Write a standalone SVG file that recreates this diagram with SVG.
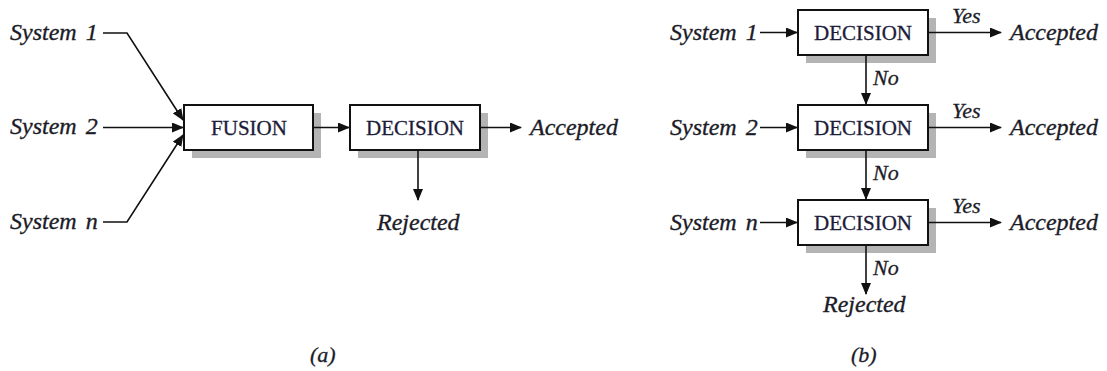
<svg xmlns="http://www.w3.org/2000/svg" width="1107" height="371" viewBox="0 0 1107 371">
<style>
.lbl{font-family:"Liberation Serif","Times New Roman",serif;font-style:italic;font-size:24px;fill:#1c1c28;stroke:#1c1c28;stroke-width:0.35;word-spacing:3px}
.sm{font-family:"Liberation Serif","Times New Roman",serif;font-style:italic;font-size:22px;fill:#1c1c28;stroke:#1c1c28;stroke-width:0.3}
.box{fill:#fff;stroke:#111;stroke-width:2}
.shd{fill:#b4b4b4}
.btxt{font-family:"Liberation Serif","Times New Roman",serif;font-size:21px;fill:#1c1c3a;stroke:#1c1c3a;stroke-width:0.3;text-anchor:middle}
.ln{fill:none;stroke:#111;stroke-width:1.6}
</style>
<defs>
<marker id="ah" markerWidth="12" markerHeight="10" refX="11" refY="5" orient="auto" markerUnits="userSpaceOnUse">
<path d="M0,0 L12,5 L0,10 Z" fill="#111"/>
</marker>
</defs>
<rect width="1107" height="371" fill="#fff"/>

<g id="a-labels">
<text class="lbl" x="10" y="40">System 1</text>
<text class="lbl" x="10" y="134">System 2</text>
<text class="lbl" x="10" y="229">System n</text>
<text class="lbl" x="530" y="135">Accepted</text>
<text class="lbl" x="377" y="230">Rejected</text>
<text class="sm" x="310" y="362">(a)</text>
</g>

<g id="fusion">
<rect class="shd" x="192" y="113" width="129" height="45"/>
<rect class="box" x="184" y="105" width="129" height="45"/>
<text class="btxt" x="249" y="135">FUSION</text>
</g>

<g id="decision-a">
<rect class="shd" x="358" y="113" width="130" height="45"/>
<rect class="box" x="350" y="105" width="130" height="45"/>
<text class="btxt" x="415" y="135">DECISION</text>
</g>

<g id="decision-b1">
<rect class="shd" x="806" y="18" width="130" height="45"/>
<rect class="box" x="798" y="10" width="130" height="45"/>
<text class="btxt" x="863" y="40">DECISION</text>
</g>
<g id="decision-b2">
<rect class="shd" x="806" y="113" width="130" height="45"/>
<rect class="box" x="798" y="105" width="130" height="45"/>
<text class="btxt" x="863" y="135">DECISION</text>
</g>
<g id="decision-b3">
<rect class="shd" x="806" y="208" width="130" height="45"/>
<rect class="box" x="798" y="200" width="130" height="45"/>
<text class="btxt" x="863" y="230">DECISION</text>
</g>

<g id="b-labels">
<text class="lbl" x="670" y="40">System 1</text>
<text class="lbl" x="670" y="135">System 2</text>
<text class="lbl" x="670" y="230">System n</text>
<text class="lbl" x="1010" y="40">Accepted</text>
<text class="lbl" x="1010" y="135">Accepted</text>
<text class="lbl" x="1010" y="230">Accepted</text>
<text class="sm" x="952" y="23">Yes</text>
<text class="sm" x="952" y="118">Yes</text>
<text class="sm" x="952" y="213">Yes</text>
<text class="sm" x="873" y="85">No</text>
<text class="sm" x="873" y="180">No</text>
<text class="sm" x="873" y="275">No</text>
<text class="lbl" x="823" y="312">Rejected</text>
<text class="sm" x="851" y="362">(b)</text>
</g>

<g id="connectors">
<path class="ln" d="M103,33 L127,33 L183,120" marker-end="url(#ah)"/>
<path class="ln" d="M103,127.5 L183,127.5" marker-end="url(#ah)"/>
<path class="ln" d="M103,222 L127,222 L183,135" marker-end="url(#ah)"/>
<path class="ln" d="M313,127.5 L349,127.5" marker-end="url(#ah)"/>
<path class="ln" d="M480,127.5 L521,127.5" marker-end="url(#ah)"/>
<path class="ln" d="M418,150 L418,200" marker-end="url(#ah)"/>

<path class="ln" d="M760,32.5 L797,32.5" marker-end="url(#ah)"/>
<path class="ln" d="M760,127.5 L797,127.5" marker-end="url(#ah)"/>
<path class="ln" d="M760,222.5 L797,222.5" marker-end="url(#ah)"/>
<path class="ln" d="M928,32.5 L1001,32.5" marker-end="url(#ah)"/>
<path class="ln" d="M928,127.5 L1001,127.5" marker-end="url(#ah)"/>
<path class="ln" d="M928,222.5 L1001,222.5" marker-end="url(#ah)"/>
<path class="ln" d="M866,55 L866,104" marker-end="url(#ah)"/>
<path class="ln" d="M866,150 L866,199" marker-end="url(#ah)"/>
<path class="ln" d="M866,245 L866,294" marker-end="url(#ah)"/>
</g>
</svg>
